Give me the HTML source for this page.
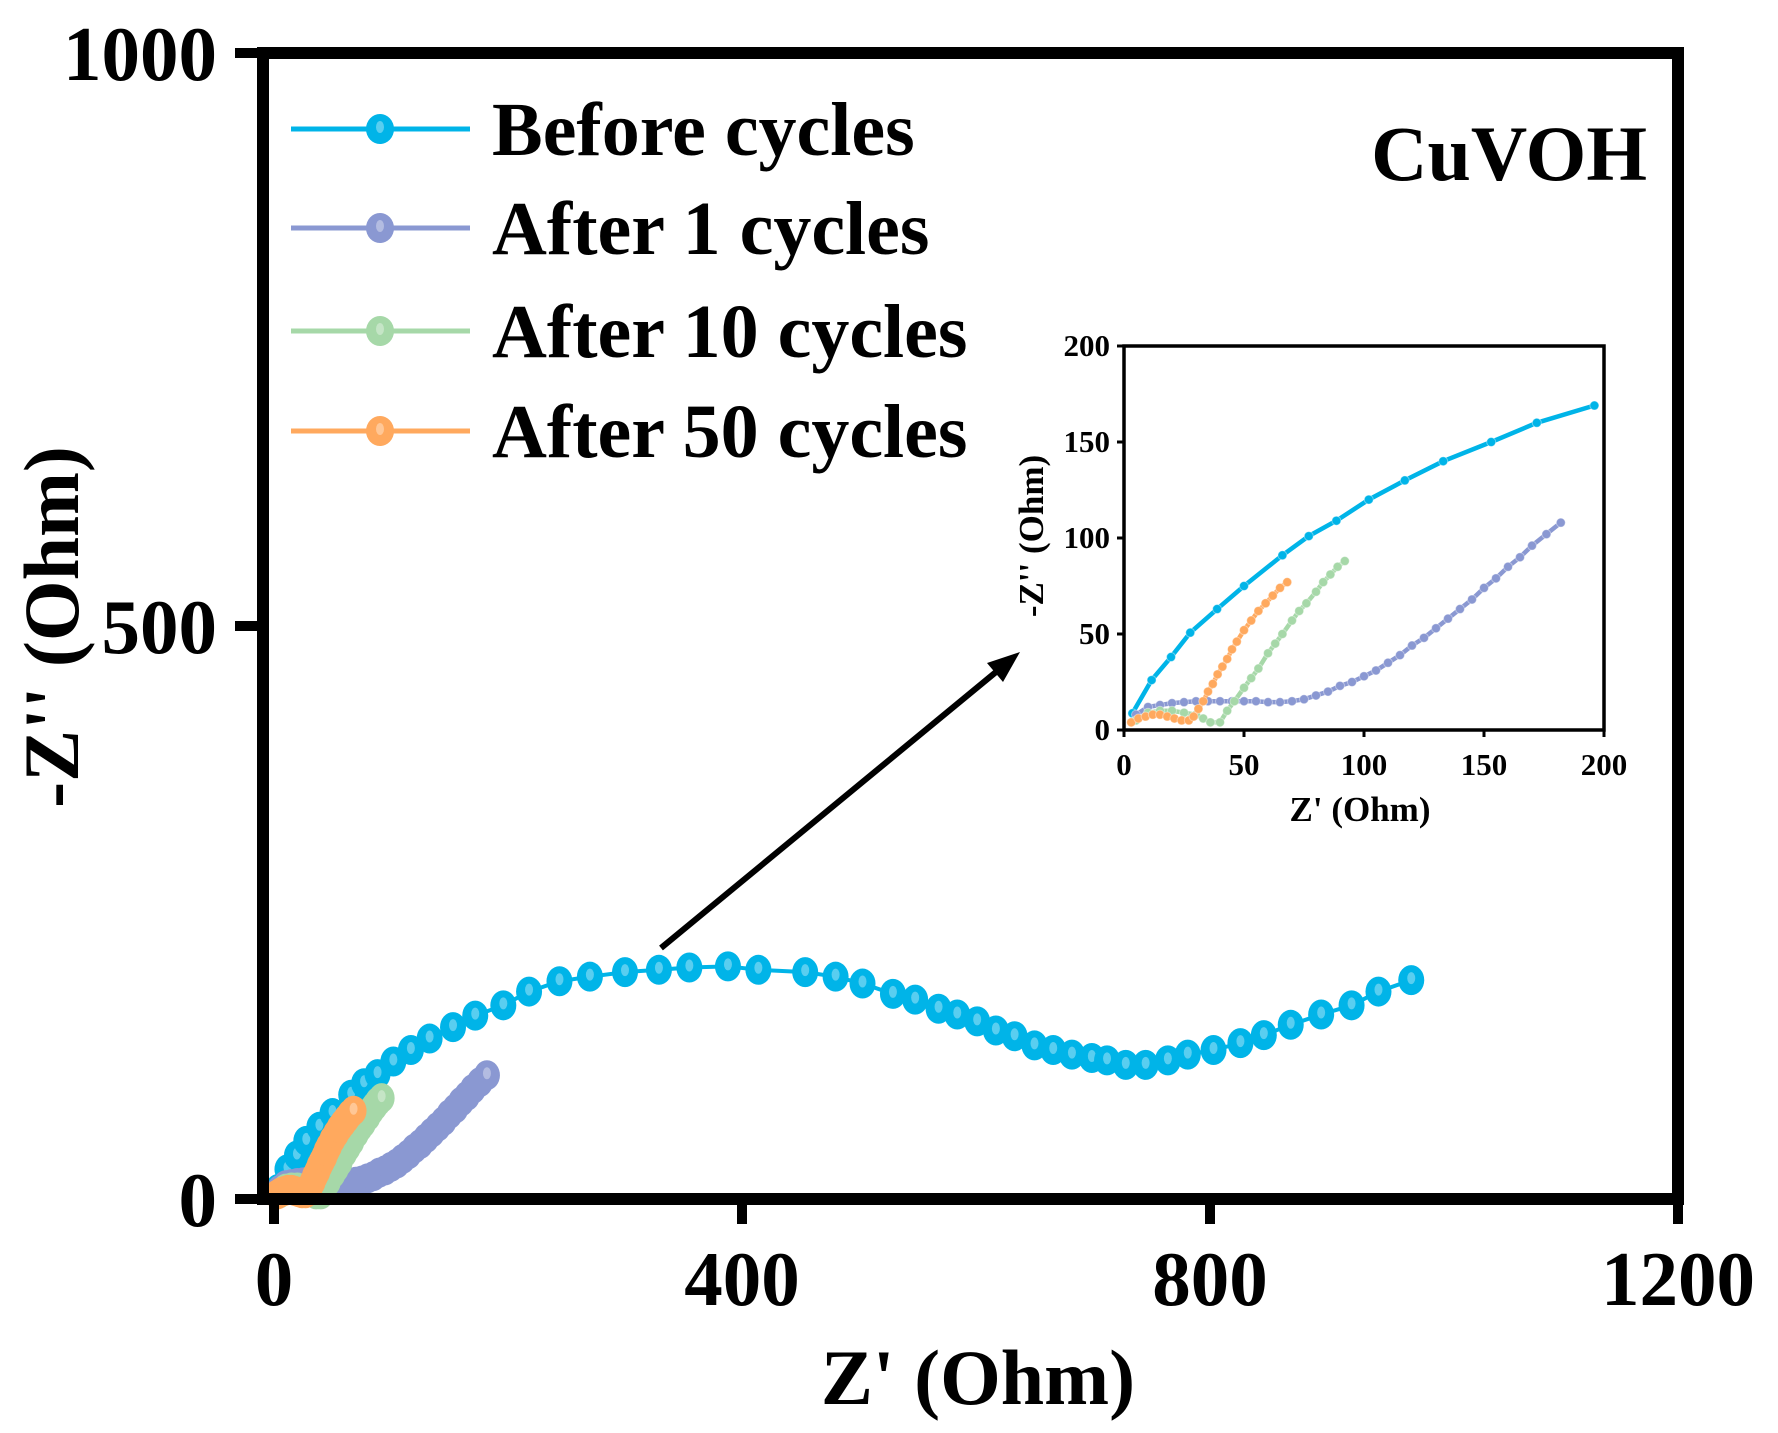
<!DOCTYPE html>
<html><head><meta charset="utf-8">
<style>
html,body{margin:0;padding:0;background:#fff;}
svg{display:block;}
text{font-family:"Liberation Serif","DejaVu Serif",serif;font-weight:bold;fill:#000;}
</style></head>
<body>
<svg id="chart" width="1778" height="1433" viewBox="0 0 1778 1433" xmlns="http://www.w3.org/2000/svg">
  <g id="main-marks"></g>
  <g id="main-axes"></g>
  <g id="legend"></g>
  <text x="1647" y="180" font-size="78" text-anchor="end">CuVOH</text>
  <g>
    <line x1="661" y1="948" x2="996" y2="672" stroke="#000" stroke-width="6"/>
    <polygon points="1020,652 987,663 1003,682" fill="#000"/>
  </g>
  <g id="inset"></g>
</svg>
<script>
const seriesNames = ["Before cycles","After 1 cycles","After 10 cycles","After 50 cycles"];
const seriesColors = ["#00b4e8","#8a98d2","#a6d8a8","#ffa95e"];
const beforeZ = [[3.5,8.7],[11.5,26],[19.6,38],[27.6,50.7],[38.8,63],[50,75],[66,91],[77,101],[88.5,109],[102,120],[117,130],[133,140],[153,150],[172,160],[196,169],[218,181],[244,190],[270,194],[300,198],[329,200],[355,202],[388,203],[414,200],[454,198],[480,194],[503,188],[529,179],[548,174],[568,166],[584,161],[601,155],[617,147],[633,142],[650,134],[666,130],[682,126],[699,123],[712,121],[728,117],[745,117],[764,121],[781,126],[803,130],[826,136],[846,143],[869,152],[895,161],[921,169],[944,181],[972,191]];
const after1Z = [[5,8],[10,12],[15,13],[20,14],[25,14.5],[30,15],[35,15],[40,15],[45,15],[50,15],[55,15],[60,14.5],[65,14.5],[70,15],[75,16],[80,18],[85,20],[90,23],[95,25],[100,28],[105,31],[110,35],[115,39],[120,44],[125,48],[130,53],[135,58],[140,63],[145,68],[150,74],[155,79],[160,85],[165,90],[170,96],[176,102],[182,108]];
const after10Z = [[5,5],[10,9],[15,10],[20,10],[25,9],[30,8],[33,6],[36,4],[40,4],[43,10],[46,15],[50,22],[53,27],[56,32],[60,40],[63,45],[66,50],[70,57],[73,62],[76,66],[80,72],[83,77],[86,81],[89,85],[92,88]];
const after50Z = [[3,4],[6,6],[9,7],[12,8],[15,8],[18,7],[21,6],[24,5],[27,5],[29,7],[31,11],[33,15],[35,20],[37,24],[39,29],[41,33],[43,37],[45,42],[47,46],[50,52],[53,57],[56,62],[59,66],[62,70],[65,74],[68,77]];
const allSeries = [beforeZ, after1Z, after10Z, after50Z];
const mainXTicks = [0,400,800,1200];
const mainYTicks = [0,500,1000];
const insetTicks = [0,50,100,150,200];

const NS = "http://www.w3.org/2000/svg";
function mk(tag, attrs, parent){const e=document.createElementNS(NS,tag);for(const k in attrs)e.setAttribute(k,attrs[k]);parent.appendChild(e);return e;}

const mx = v => 274 + v*(1404/1200);
const my = v => 1199 - v*(1146/1000);
const mainMarks = document.getElementById('main-marks');
const mainAxes = document.getElementById('main-axes');

[0,1,2,3].forEach(si=>{
  const pts = allSeries[si];
  const g = mk('g',{},mainMarks);
  
  
  const pl = mk('polyline',{points:pts.map(p=>mx(p[0])+','+my(p[1])).join(' '),fill:'none',stroke:seriesColors[si],'stroke-width':4},g);
  
  
  pts.forEach(p=>{
    const c = mk('ellipse',{cx:mx(p[0]),cy:my(p[1]),rx:13,ry:15,fill:seriesColors[si]},g);
    
    
    mk('ellipse',{cx:mx(p[0]),cy:my(p[1])-2,rx:4,ry:6,fill:'#ffffff','fill-opacity':0.35},g);
  });
});

mk('rect',{x:263,y:53,width:1415,height:1146,fill:'none',stroke:'#000','stroke-width':12},mainAxes);
mainXTicks.forEach(t=>{
  const l = mk('line',{x1:mx(t),x2:mx(t),y1:1199,y2:1224,stroke:'#000','stroke-width':10},mainAxes);
  
  
  const tx = mk('text',{x:mx(t),y:1305,'font-size':77,'text-anchor':'middle'},mainAxes);
  tx.textContent = t;
  
  
});
mainYTicks.forEach(t=>{
  const l = mk('line',{x1:235,x2:263,y1:my(t),y2:my(t),stroke:'#000','stroke-width':10},mainAxes);
  
  
  const tx = mk('text',{x:217,y:my(t)+27,'font-size':77,'text-anchor':'end'},mainAxes);
  tx.textContent = t;
  
  
});
const xt = mk('text',{x:978,y:1404,'font-size':78,'text-anchor':'middle'},mainAxes);
xt.textContent = "Z' (Ohm)";


const yt = mk('text',{x:0,y:0,'font-size':78,'text-anchor':'middle',transform:'translate(78,627) rotate(-90)'},mainAxes);
yt.textContent = "-Z'' (Ohm)";



const legend = document.getElementById('legend');
const legY = [129,228,331,431];
seriesNames.forEach((n,i)=>{
  const g = mk('g',{},legend);
  
  
  mk('line',{x1:291,x2:470,y1:legY[i],y2:legY[i],stroke:seriesColors[i],'stroke-width':5},g);
  mk('ellipse',{cx:380,cy:legY[i],rx:14,ry:15,fill:seriesColors[i]},g);
  mk('ellipse',{cx:380,cy:legY[i]-2,rx:4,ry:6,fill:'#fff','fill-opacity':0.35},g);
  const t = mk('text',{x:492,y:legY[i]+26,'font-size':76},g);
  t.textContent = n;
});

const inset = document.getElementById('inset');
const iL=1124, iR=1604, iT=346, iB=730;
const ix = v => iL + v*(iR-iL)/200;
const iy = v => iB - v*(iB-iT)/200;
const cp = mk('clipPath',{id:'iclip'},inset);
mk('rect',{x:iL,y:iT,width:iR-iL,height:iB-iT},cp);
const ig = mk('g',{'clip-path':'url(#iclip)'},inset);
[0,1,2,3].forEach(si=>{
  const pts = allSeries[si].filter(p=>p[0]<=200);
  const g = mk('g',{},ig);
  
  
  mk('polyline',{points:pts.map(p=>ix(p[0])+','+iy(p[1])).join(' '),fill:'none',stroke:seriesColors[si],'stroke-width':4.5},g);
  pts.forEach(p=>{
    const c = mk('circle',{cx:ix(p[0]),cy:iy(p[1]),r:4.5,fill:seriesColors[si],stroke:'#fff','stroke-opacity':0.4,'stroke-width':1},g);
    
    
  });
});
mk('rect',{x:iL,y:iT,width:iR-iL,height:iB-iT,fill:'none',stroke:'#000','stroke-width':3.5},inset);
insetTicks.forEach(t=>{
  mk('line',{x1:ix(t),x2:ix(t),y1:iB,y2:iB+7,stroke:'#000','stroke-width':3},inset);
  const a = mk('text',{x:ix(t),y:775,'font-size':31,'text-anchor':'middle'},inset);
  a.textContent = t;
  
  
  mk('line',{x1:iL-7,x2:iL,y1:iy(t),y2:iy(t),stroke:'#000','stroke-width':3},inset);
  const b = mk('text',{x:1110,y:iy(t)+10,'font-size':31,'text-anchor':'end'},inset);
  b.textContent = t;
  
  
});
const ixt = mk('text',{x:1360,y:821,'font-size':35,'text-anchor':'middle'},inset);
ixt.textContent = "Z' (Ohm)";


const iyt = mk('text',{x:0,y:0,'font-size':35,'text-anchor':'middle',transform:'translate(1043,536) rotate(-90)'},inset);
iyt.textContent = "-Z'' (Ohm)";


</script>
</body></html>
